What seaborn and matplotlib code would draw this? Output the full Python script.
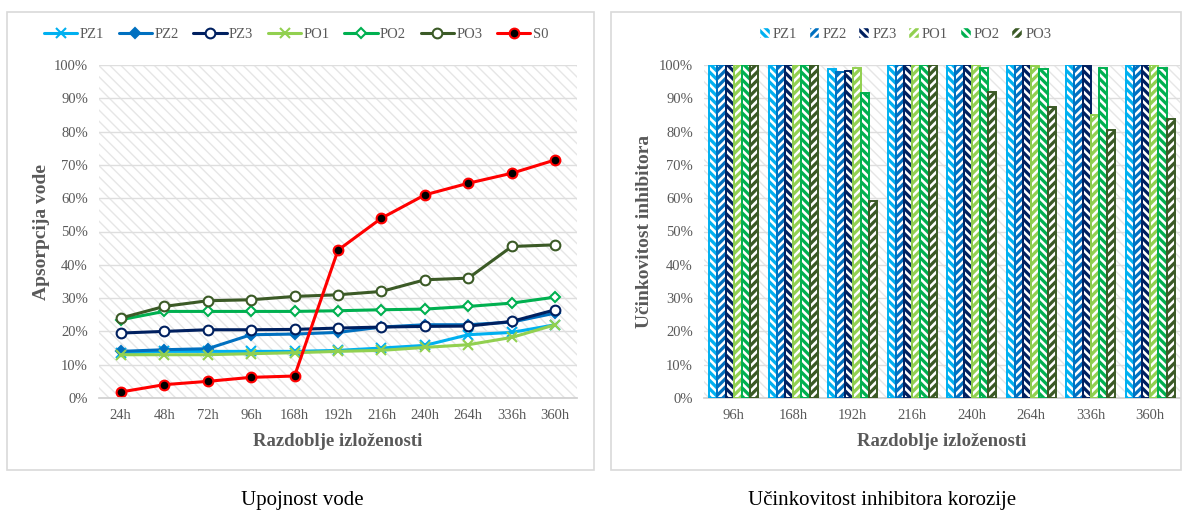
import numpy as np
import pandas as pd
import matplotlib
matplotlib.use('Agg')
import matplotlib.pyplot as plt
import seaborn as sns
from matplotlib.patches import Rectangle, Patch
from matplotlib.lines import Line2D
from matplotlib.ticker import PercentFormatter

# podaci - upojnost vode (%)
sati_lijevo = ['24h', '48h', '72h', '96h', '168h', '192h', '216h', '240h', '264h', '336h', '360h']
pz1 = [13.5, 14.0, 14.0, 14.0, 14.0, 14.3, 15.0, 15.8, 19.0, 19.7, 22.0]
pz2 = [14.0, 14.5, 14.8, 19.0, 19.2, 19.7, 21.3, 22.0, 22.0, 22.8, 25.5]
pz3 = [19.5, 20.0, 20.5, 20.5, 20.6, 21.0, 21.3, 21.5, 21.6, 23.0, 26.5]
po1 = [13.0, 13.0, 13.0, 13.3, 13.6, 14.0, 14.3, 15.2, 16.0, 18.2, 22.0]
po2 = [23.5, 26.0, 26.0, 26.0, 26.0, 26.2, 26.5, 26.7, 27.5, 28.5, 30.3]
po3 = [24.0, 27.5, 29.2, 29.5, 30.5, 31.0, 32.0, 35.5, 36.0, 45.5, 46.0]
s0 = [1.8, 4.0, 5.0, 6.2, 6.6, 44.4, 54.0, 61.0, 64.5, 67.5, 71.5]

# podaci - ucinkovitost inhibitora (%)
sati_desno = ['96h', '168h', '192h', '216h', '240h', '264h', '336h', '360h']
uc_pz1 = [100, 100, 98.8, 100, 100, 100, 100, 100]
uc_pz2 = [100, 100, 98.0, 100, 100, 100, 100, 100]
uc_pz3 = [100, 100, 98.2, 100, 100, 100, 99.6, 100]
uc_po1 = [100, 100, 99.0, 100, 100, 99.8, 85.0, 100]
uc_po2 = [100, 100, 91.5, 100, 99.0, 98.7, 99.0, 99.2]
uc_po3 = [100, 100, 59.3, 100, 92.0, 87.5, 80.5, 83.7]

boje = {'PZ1': '#00B0F0', 'PZ2': '#0070C0', 'PZ3': '#002060',
        'PO1': '#92D050', 'PO2': '#00B050', 'PO3': '#3B5A26', 'S0': '#FF0000'}

sns.set_theme(style='white')
plt.rcParams['font.family'] = ['Liberation Serif', 'DejaVu Serif']
plt.rcParams['hatch.linewidth'] = 1.9
siva = '#595959'

fig = plt.figure(figsize=(11.87, 5.12), dpi=100)
W, H = 1187, 512

# okviri panela
for x0, x1 in [(7, 594), (611, 1181)]:
    fig.patches.append(Rectangle((x0 / W, 1 - 470 / H), (x1 - x0) / W, (470 - 12) / H,
                                 transform=fig.transFigure, fill=False,
                                 edgecolor='#d9d9d9', linewidth=1.2))

ax1 = fig.add_axes([99 / W, 1 - 398 / H, (577 - 99) / W, (398 - 65) / H])
ax2 = fig.add_axes([704 / W, 1 - 398 / H, (1180 - 704) / W, (398 - 65) / H])


def pozadina(ax):
    ax.set_facecolor('white')
    pl = Rectangle((0, 0), 1, 1, transform=ax.transAxes, fill=False,
                   hatch='\\\\\\', edgecolor='#e6e6e6', linewidth=0, zorder=0)
    if hasattr(pl, 'set_hatch_linewidth'):
        pl.set_hatch_linewidth(1.0)
    ax.add_patch(pl)
    ax.set_ylim(0, 100)
    ax.set_yticks(np.arange(0, 101, 10))
    ax.yaxis.set_major_formatter(PercentFormatter(decimals=0))
    ax.grid(axis='y', color='#dedede', linewidth=1)
    ax.set_axisbelow(True)
    for s in ['top', 'right', 'left']:
        ax.spines[s].set_visible(False)
    ax.spines['bottom'].set_color('#d0d0d0')
    ax.tick_params(axis='both', colors=siva, labelsize=10.5, length=0, pad=8)


# lijevi graf
pozadina(ax1)
serije = [('PZ1', pz1, 'x', None), ('PZ2', pz2, 'D', None), ('PZ3', pz3, 'o', 'white'),
          ('PO1', po1, 'x', None), ('PO2', po2, 'D', 'white'), ('PO3', po3, 'o', 'white'),
          ('S0', s0, 'o', 'black')]
ruke = []
for ime, vrijednosti, mk, fc in serije:
    df = pd.DataFrame({'x': np.arange(len(sati_lijevo)), 'y': vrijednosti})
    ms = 5 if mk == 'D' else 7
    kw = dict(marker=mk, markersize=ms, markeredgewidth=1.5, markeredgecolor=boje[ime])
    if fc is not None:
        kw['markerfacecolor'] = fc
    sns.lineplot(data=df, x='x', y='y', ax=ax1, color=boje[ime], linewidth=2.2, **kw)
    ruke.append(Line2D([], [], color=boje[ime], linewidth=2.2, label=ime, **kw))
ax1.set_xlim(-0.5, len(sati_lijevo) - 0.5)
ax1.set_xticks(np.arange(len(sati_lijevo)))
ax1.set_xticklabels(sati_lijevo)
ax1.set_xlabel('Razdoblje izloženosti', fontsize=13.5, fontweight='bold', color=siva, labelpad=8)
ax1.set_ylabel('Apsorpcija vode', fontsize=14, fontweight='bold', color=siva, labelpad=3)
fig.legend(handles=ruke, loc='center', bbox_to_anchor=(296 / W, 1 - 34 / H), ncol=7,
           frameon=False, fontsize=10.5, labelcolor=siva, handlelength=2.3,
           columnspacing=1.0, handletextpad=0.15)

# desni graf
pozadina(ax2)
imena = ['PZ1', 'PZ2', 'PZ3', 'PO1', 'PO2', 'PO3']
uc = [uc_pz1, uc_pz2, uc_pz3, uc_po1, uc_po2, uc_po3]
dug = pd.DataFrame({'sat': np.tile(sati_desno, len(imena)),
                    'serija': np.repeat(imena, len(sati_desno)),
                    'vrijednost': np.concatenate(uc)})
sns.barplot(data=dug, x='sat', y='vrijednost', hue='serija', hue_order=imena,
            order=sati_desno, palette=boje, width=0.82, saturation=1, ax=ax2,
            edgecolor='white', linewidth=0, legend=False)
srafure = ['\\\\\\\\', '////', '\\\\\\\\', '////', '\\\\\\\\', '////']
for cont, ime, h in zip(ax2.containers, imena, srafure):
    for p in cont.patches:
        p.set_hatch(h)
        p.set_edgecolor('white')
        p.set_zorder(2)
        ax2.add_patch(Rectangle((p.get_x(), p.get_y()), p.get_width(), p.get_height(),
                                fill=False, edgecolor=boje[ime], linewidth=1.4, zorder=3))
ax2.set_xlabel('Razdoblje izloženosti', fontsize=13.5, fontweight='bold', color=siva, labelpad=8)
ax2.set_ylabel('Učinkovitost inhibitora', fontsize=14, fontweight='bold', color=siva, labelpad=4)
ruke2 = [Patch(facecolor=boje[i], edgecolor='white', hatch=h, label=i)
         for i, h in zip(imena, srafure)]
fig.legend(handles=ruke2, loc='center', bbox_to_anchor=(905 / W, 1 - 34 / H), ncol=6,
           frameon=False, fontsize=10.5, labelcolor=siva, handlelength=0.75, handleheight=0.75,
           columnspacing=0.8, handletextpad=0.2)

# naslovi ispod
fig.text(302 / W, 1 - 500 / H, 'Upojnost vode', ha='center', va='center', fontsize=15, color='black')
fig.text(882 / W, 1 - 500 / H, 'Učinkovitost inhibitora korozije', ha='center', va='center',
         fontsize=15, color='black')

fig.savefig('out.png', dpi=100, facecolor='white')
